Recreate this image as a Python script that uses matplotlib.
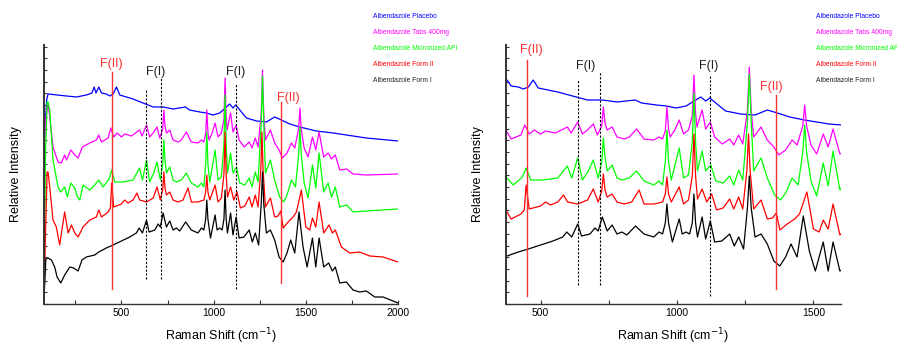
import numpy as np
import matplotlib
matplotlib.use("Agg")
import matplotlib.pyplot as plt

plt.rcParams['font.family'] = ['Liberation Sans', 'DejaVu Sans']

# Raman spectra (intensity in arbitrary stacked units)
wn_placebo = [80, 95, 102, 202, 256, 310, 340, 352, 362, 377, 392, 418, 437, 455, 473, 491,
              527, 563, 617, 672, 726, 780, 847, 870, 925, 961, 997, 1033, 1087, 1105,
              1120, 1142, 1178, 1233, 1286, 1331, 1368, 1413, 1467, 1557, 1648, 1828, 2000]
placebo = [160, 205, 210, 208, 207, 209, 211, 217, 211, 217, 211, 210, 208, 210, 217, 209,
           207, 205, 201, 197, 197, 195, 197, 194, 192, 191, 189, 191, 200, 196,
           199, 194, 186, 183, 182, 187, 184, 180, 177, 173, 171, 166, 163]

wn_tabs = [80, 90, 102, 111, 129, 156, 174, 192, 202, 225, 247, 265, 288, 328, 364, 377,
           392, 428, 442, 458, 477, 500, 518, 554, 598, 612, 636, 653, 672, 693, 708, 724,
           730, 736, 744, 762, 780, 807, 825, 852, 879, 915, 934, 947, 957, 963, 969, 975,
           992, 1008, 1024, 1042, 1056, 1062, 1068, 1073, 1092, 1105, 1122, 1138, 1166,
           1193, 1208, 1226, 1241, 1258, 1265, 1272, 1281, 1308, 1331, 1355, 1373, 1398,
           1422, 1440, 1461, 1468, 1475, 1491, 1512, 1536, 1554, 1572, 1597, 1621, 1639,
           1660, 1684, 1722, 1756, 1828, 2000]
tabs = [150, 185, 201, 187, 157, 142, 141, 149, 144, 154, 149, 146, 157, 161, 164, 169,
        162, 166, 176, 167, 171, 167, 170, 168, 174, 168, 179, 167, 171, 177, 166, 175,
        194, 178, 171, 174, 164, 162, 164, 172, 162, 161, 164, 162, 170, 194, 172, 164,
        171, 181, 167, 171, 185, 226, 188, 174, 191, 172, 179, 164, 157,
        162, 156, 166, 157, 190, 234, 190, 164, 174, 161, 154, 146, 151,
        161, 156, 175, 196, 175, 156, 147, 167, 154, 172, 147, 151, 145,
        149, 134, 135, 130, 129, 130]

wn_api = [80, 88, 97, 102, 111, 129, 156, 171, 192, 207, 225, 247, 259, 274, 292, 328,
          355, 377, 400, 433, 447, 464, 509, 563, 598, 614, 636, 653, 675, 693, 711, 724,
          730, 736, 744, 762, 780, 798, 825, 852, 879, 915, 934, 947, 957, 963, 969, 979,
          1008, 1024, 1042, 1056, 1062, 1068, 1075, 1092, 1105, 1124, 1142, 1169, 1193,
          1208, 1226, 1241, 1258, 1265, 1272, 1281, 1308, 1331, 1358, 1380, 1398, 1422,
          1444, 1461, 1468, 1475, 1491, 1512, 1536, 1554, 1572, 1597, 1621, 1639, 1660,
          1684, 1722, 1756, 1828, 2000]
api = [5, 150, 202, 202, 194, 144, 117, 112, 117, 107, 121, 116, 108, 104, 119, 114,
       119, 124, 117, 125, 134, 122, 122, 124, 136, 124, 144, 122, 131, 142, 124, 140,
       164, 145, 131, 137, 124, 122, 124, 131, 121, 117, 121, 117, 140, 172, 140, 122,
       154, 124, 127, 160, 209, 160, 131, 151, 131, 137, 121, 119, 126,
       117, 132, 122, 180, 228, 180, 131, 144, 124, 107, 102, 109, 124,
       117, 150, 177, 150, 121, 106, 139, 116, 151, 112, 121, 107, 117,
       97, 99, 92, 93, 95]

wn_form2 = [80, 88, 97, 102, 111, 129, 147, 165, 192, 211, 229, 247, 265, 292, 328, 364,
            377, 392, 428, 440, 447, 458, 500, 518, 536, 563, 584, 599, 636, 672, 693,
            711, 724, 730, 736, 744, 762, 780, 807, 834, 861, 879, 915, 947, 957, 963,
            969, 979, 1008, 1024, 1042, 1056, 1062, 1068, 1075, 1092, 1109, 1127, 1145,
            1169, 1193, 1208, 1226, 1241, 1256, 1262, 1268, 1281, 1308, 1331, 1350, 1364,
            1377, 1404, 1431, 1449, 1476, 1500, 1521, 1536, 1554, 1572, 1597, 1626, 1644,
            1660, 1693, 1738, 1792, 1847, 1919, 2000]
form2 = [0, 70, 132, 132, 117, 84, 77, 59, 92, 71, 79, 71, 67, 77, 84, 87,
         94, 87, 92, 96, 121, 97, 100, 104, 101, 104, 111, 104, 102, 106, 117,
         104, 115, 132, 116, 109, 112, 104, 102, 104, 116, 102, 102, 104, 112, 129,
         112, 104, 119, 102, 106, 130, 172, 130, 107, 117, 104, 112, 96,
         98, 107, 97, 109, 97, 135, 172, 135, 97, 106, 87, 88, 93,
         76, 82, 87, 92, 114, 77, 74, 86, 77, 102, 71, 79, 71,
         74, 57, 51, 52, 48, 47, 42]

wn_form1 = [80, 90, 102, 120, 138, 151, 171, 192, 220, 241, 265, 286, 310, 355, 377, 418,
            455, 500, 545, 581, 596, 614, 636, 650, 681, 699, 711, 726, 744, 762, 780,
            798, 816, 848, 879, 915, 934, 947, 957, 963, 969, 983, 1008, 1019, 1033, 1046,
            1056, 1062, 1068, 1075, 1092, 1105, 1122, 1138, 1164, 1193, 1210, 1226, 1244,
            1258, 1265, 1272, 1286, 1308, 1331, 1355, 1377, 1398, 1418, 1440, 1463, 1485,
            1507, 1536, 1554, 1572, 1597, 1624, 1644, 1660, 1684, 1720, 1756, 1792, 1828,
            1874, 1919, 2000]
form1 = [5, 45, 46, 44, 37, 27, 21, 29, 37, 36, 33, 44, 47, 49, 52, 56,
         59, 63, 67, 71, 76, 71, 84, 72, 74, 80, 77, 91, 77, 83, 74,
         76, 73, 82, 74, 71, 76, 74, 85, 104, 85, 66, 89, 74, 76, 74,
         85, 114, 85, 71, 91, 69, 87, 66, 67, 74, 62, 71, 59,
         100, 132, 100, 71, 74, 64, 47, 42, 51, 64, 51, 92, 57,
         37, 66, 37, 66, 37, 41, 33, 37, 21, 22, 14, 12, 13,
         7, 7, 1]

labels = ["Albendazole Placebo", "Albendazole Tabs 400mg", "Albendazole Micronized API",
          "Albendazole Form II", "Albendazole Form I"]
colors = ["#0000ff", "#ff00ff", "#00ff00", "#ff0000", "#000000"]
series = [(wn_placebo, placebo), (wn_tabs, tabs), (wn_api, api),
          (wn_form2, form2), (wn_form1, form1)]
right_shift = [7, 3, 2, -2, -4]

W, H = 897, 347
fig = plt.figure(figsize=(W / 100, H / 100), dpi=100)
ax1 = fig.add_axes([44 / W, (H - 304) / H, 354 / W, 259 / H])
ax2 = fig.add_axes([505.7 / W, (H - 304) / H, 335 / W, 259 / H])


def style(ax, xlim, majors, minors):
    ax.set_xlim(*xlim)
    ax.set_ylim(0, 259)
    for s in ["top", "right"]:
        ax.spines[s].set_visible(False)
    ax.spines["left"].set_color("#333333")
    ax.spines["left"].set_linewidth(1.4)
    ax.spines["bottom"].set_color("#333333")
    ax.spines["bottom"].set_linewidth(1.0)
    ax.set_xticks(majors)
    ax.set_xticks(minors, minor=True)
    ax.set_yticks(np.arange(0, 259, 11.7))
    ax.set_yticklabels([])
    ax.tick_params(axis="x", which="both", direction="in", length=3, width=0.8,
                   labelsize=7.5, pad=3, color="#333333")
    ax.tick_params(axis="y", direction="in", length=2.5, width=0.8, color="#333333")
    ax.set_xlabel("Raman Shift (cm$^{-1}$)", fontsize=9, labelpad=6)
    ax.set_ylabel("Relative Intensity", fontsize=9, labelpad=12)


for (x, y), c in zip(series, colors):
    ax1.plot(x, y, color=c, lw=0.9)
for (x, y), c, d in zip(series, colors, right_shift):
    ax2.plot(x, np.array(y) + d, color=c, lw=0.9)

style(ax1, (80, 2000), [500, 1000, 1500, 2000], [250, 750, 1250, 1750])
style(ax2, (372, 1600), [500, 1000, 1500], [750, 1250])

# form markers
red_line = "#ff3030"
ax1.plot([447, 447], [15, 232], color=red_line, lw=1)
ax1.plot([1364, 1364], [21, 202], color=red_line, lw=1)
ax1.plot([635, 635], [25, 214], color="black", lw=0.8, ls=(0, (2, 1.5)))
ax1.plot([717, 717], [25, 226], color="black", lw=0.8, ls=(0, (2, 1.5)))
ax1.plot([1120, 1120], [15, 220], color="black", lw=0.8, ls=(0, (2, 1.5)))
ax1.text(445, 240, "F(II)", color=red_line, fontsize=9, ha="center", va="center")
ax1.text(686, 232, "F(I)", color="#222222", fontsize=9, ha="center", va="center")
ax1.text(1120, 232, "F(I)", color="#222222", fontsize=9, ha="center", va="center")
ax1.text(1407, 206, "F(II)", color=red_line, fontsize=9, ha="center", va="center")

ax2.plot([449, 449], [8, 244], color=red_line, lw=1)
ax2.plot([1362, 1362], [15, 209], color=red_line, lw=1)
ax2.plot([636, 636], [19, 224], color="black", lw=0.8, ls=(0, (2, 1.5)))
ax2.plot([718, 718], [19, 232], color="black", lw=0.8, ls=(0, (2, 1.5)))
ax2.plot([1120, 1120], [8, 228], color="black", lw=0.8, ls=(0, (2, 1.5)))
ax2.text(467, 254, "F(II)", color=red_line, fontsize=9, ha="center", va="center", clip_on=False)
ax2.text(664, 238, "F(I)", color="#222222", fontsize=9, ha="center", va="center")
ax2.text(1115, 238, "F(I)", color="#222222", fontsize=9, ha="center", va="center")
ax2.text(1346, 217, "F(II)", color=red_line, fontsize=9, ha="center", va="center")

# legend entries (text only, coloured)
for x0 in (373, 816):
    for i, (lab, c) in enumerate(zip(labels, colors)):
        yy = [17, 33, 49, 64, 80][i]
        fig.text(x0 / W, 1 - yy / H, lab, color=c if c != "#000000" else "#222222",
                 fontsize=4.9, ha="left", va="center")

fig.savefig("out.png", dpi=100)
